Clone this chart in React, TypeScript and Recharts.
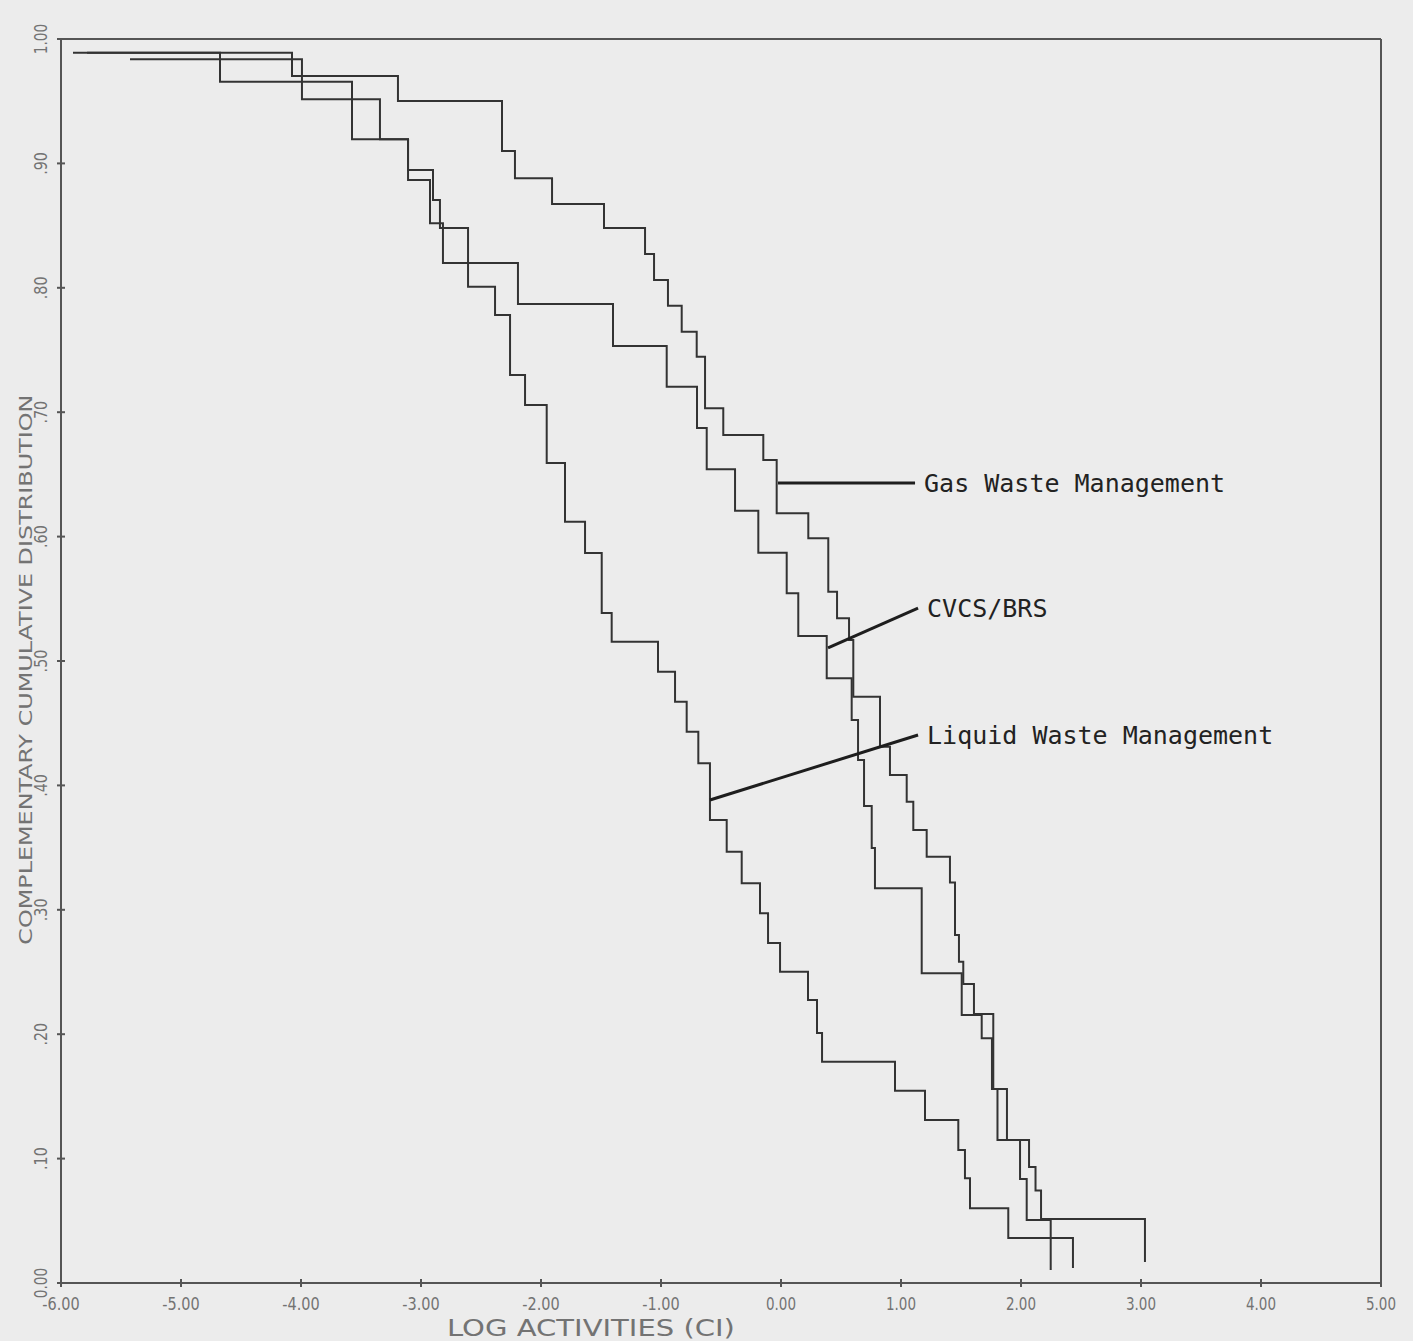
import { LineChart, Line, XAxis, YAxis, ReferenceLine } from "recharts"

// Step curves: each x is the log activity where a new level starts, y is the level held from there
const gasX = [-5.9, -4.075, -3.192, -2.325, -2.217, -1.908, -1.475, -1.133, -1.058, -0.942, -0.8275, -0.7025, -0.633, -0.481, -0.1475, -0.036, 0.2275, 0.394, 0.467, 0.567, 0.6025, 0.825, 0.908, 1.0475, 1.1025, 1.214, 1.408, 1.45, 1.483, 1.519, 1.608, 1.769, 1.883, 2.067, 2.121, 2.167, 3.033]
const gasY = [0.989, 0.9702, 0.9502, 0.91, 0.888, 0.8674, 0.8481, 0.8272, 0.8063, 0.7856, 0.7647, 0.7446, 0.7031, 0.6817, 0.6616, 0.6187, 0.5986, 0.5557, 0.5343, 0.5169, 0.4713, 0.4311, 0.4084, 0.3869, 0.3642, 0.3427, 0.3219, 0.2797, 0.2583, 0.2404, 0.2162, 0.1559, 0.1149, 0.0932, 0.0744, 0.0514, 0.0169]

const cvcsX = [-5.425, -3.992, -3.342, -3.108, -2.925, -2.817, -2.192, -1.4, -0.9525, -0.7, -0.619, -0.383, -0.189, 0.0475, 0.144, 0.381, 0.589, 0.642, 0.692, 0.756, 0.783, 1.1725, 1.506, 1.6725, 1.758, 1.804, 1.992, 2.0475, 2.2475]
const cvcsY = [0.9837, 0.9515, 0.9194, 0.8867, 0.8519, 0.8199, 0.787, 0.7532, 0.7205, 0.6873, 0.6541, 0.6208, 0.5871, 0.5544, 0.5201, 0.4861, 0.4526, 0.4204, 0.3834, 0.3497, 0.3173, 0.249, 0.2154, 0.1967, 0.1559, 0.1149, 0.0836, 0.0506, 0.0105]

const liquidX = [-5.783, -4.675, -3.575, -3.108, -2.9, -2.842, -2.608, -2.383, -2.258, -2.133, -1.9525, -1.8, -1.633, -1.494, -1.411, -1.025, -0.883, -0.786, -0.689, -0.592, -0.4525, -0.3275, -0.175, -0.108, -0.008, 0.225, 0.3, 0.342, 0.95, 1.2, 1.4775, 1.533, 1.575, 1.894, 2.433]
const liquidY = [0.989, 0.9657, 0.9194, 0.8947, 0.8706, 0.8481, 0.8009, 0.7781, 0.7299, 0.7058, 0.6592, 0.612, 0.5868, 0.5386, 0.5155, 0.4914, 0.4673, 0.4432, 0.4178, 0.3722, 0.3467, 0.3213, 0.2972, 0.2733, 0.2502, 0.2275, 0.201, 0.1779, 0.1546, 0.131, 0.1069, 0.0842, 0.06, 0.0362, 0.0121]

const xTicks = [-6, -5, -4, -3, -2, -1, 0, 1, 2, 3, 4, 5]
const xTickLabels = ["-6.00", "-5.00", "-4.00", "-3.00", "-2.00", "-1.00", "0.00", "1.00", "2.00", "3.00", "4.00", "5.00"]
const yTicks = [0, 0.1, 0.2, 0.3, 0.4, 0.5, 0.6, 0.7, 0.8, 0.9, 1]
const yTickLabels = ["0.00", ".10", ".20", ".30", ".40", ".50", ".60", ".70", ".80", ".90", "1.00"]

// callout leaders: from a point on the curve out to the name
const calloutNames = ["Gas Waste Management", "CVCS/BRS", "Liquid Waste Management"]
const calloutFrom = [{ x: -0.025, y: 0.643 }, { x: 0.392, y: 0.5105 }, { x: -0.592, y: 0.3883 }]
const calloutTo = [{ x: 1.117, y: 0.643 }, { x: 1.142, y: 0.5426 }, { x: 1.142, y: 0.4405 }]

const toSteps = (xs: number[], ys: number[]) => xs.map((x, i) => ({ x, y: ys[i] }))

const gas = toSteps(gasX, gasY)
const cvcs = toSteps(cvcsX, cvcsY)
const liquid = toSteps(liquidX, liquidY)

const INK = "#333"
const AXIS = "#555"
const FAINT = "#737373"

const XTick = (props: any) => {
  const { x, y, payload } = props
  const label = xTickLabels[xTicks.indexOf(payload.value)] ?? String(payload.value)
  return (
    <g>
      <line x1={x} x2={x} y1={y - 4} y2={y + 4} stroke={AXIS} strokeWidth={2} />
      <text
        x={x}
        y={y + 27}
        textAnchor="middle"
        fontFamily="DejaVu Sans, sans-serif"
        fontSize={18}
        fill={FAINT}
        textLength={label.length * 7.5}
        lengthAdjust="spacingAndGlyphs"
      >
        {label}
      </text>
    </g>
  )
}

const YTick = (props: any) => {
  const { x, y, payload } = props
  const i = yTicks.findIndex(t => Math.abs(t - payload.value) < 1e-6)
  const label = yTickLabels[i] ?? String(payload.value)
  const tx = x - 14
  return (
    <g>
      <line x1={x - 4} x2={x + 4} y1={y} y2={y} stroke={AXIS} strokeWidth={2} />
      <text
        x={tx}
        y={y}
        transform={`rotate(-90 ${tx} ${y})`}
        textAnchor="middle"
        fontFamily="DejaVu Sans, sans-serif"
        fontSize={17}
        fill={FAINT}
        textLength={label.length * 7.6}
        lengthAdjust="spacingAndGlyphs"
      >
        {label}
      </text>
    </g>
  )
}

const calloutLabel = (name: string) => (props: any) => {
  const vb = props.viewBox || {}
  return (
    <text
      x={vb.x + vb.width + 9}
      y={vb.y}
      dominantBaseline="central"
      fontFamily="DejaVu Sans Mono, monospace"
      fontSize={25}
      fill="#222"
    >
      {name}
    </text>
  )
}

export default function App() {
  return (
    <div style={{ position: "absolute", left: 0, top: 0, width: 1413, height: 1341, background: "#ececec" }}>
      <LineChart width={1413} height={1341} margin={{ top: 39, right: 32, left: 0, bottom: 0 }}>
        <XAxis
          type="number"
          dataKey="x"
          domain={[-6, 5]}
          ticks={xTicks}
          allowDataOverflow
          height={58}
          tickSize={0}
          tickMargin={0}
          tickLine={false}
          axisLine={{ stroke: AXIS, strokeWidth: 2 }}
          tick={XTick}
          label={(props: any) => {
            const vb = props.viewBox || {}
            const cx = vb.x + vb.width * 0.4015
            return (
              <text
                x={cx}
                y={vb.y + 53}
                textAnchor="middle"
                fontFamily="DejaVu Sans, sans-serif"
                fontSize={23}
                fill={FAINT}
                textLength={288}
                lengthAdjust="spacingAndGlyphs"
              >
                LOG ACTIVITIES (CI)
              </text>
            )
          }}
        />
        <YAxis
          type="number"
          dataKey="y"
          domain={[0, 1]}
          ticks={yTicks}
          allowDataOverflow
          width={61}
          tickSize={0}
          tickMargin={0}
          tickLine={false}
          axisLine={{ stroke: AXIS, strokeWidth: 2 }}
          tick={YTick}
          label={(props: any) => {
            const vb = props.viewBox || {}
            const tx = 32
            const ty = vb.y + vb.height * 0.507
            return (
              <text
                x={tx}
                y={ty}
                transform={`rotate(-90 ${tx} ${ty})`}
                textAnchor="middle"
                fontFamily="DejaVu Sans, sans-serif"
                fontSize={17}
                fill={FAINT}
                textLength={550}
                lengthAdjust="spacingAndGlyphs"
              >
                COMPLEMENTARY CUMULATIVE DISTRIBUTION
              </text>
            )
          }}
        />
        {/* frame top and right */}
        <ReferenceLine y={1} stroke={AXIS} strokeWidth={2} />
        <ReferenceLine x={5} stroke={AXIS} strokeWidth={2} />

        <Line data={gas} dataKey="y" type="stepAfter" stroke={INK} strokeWidth={2} dot={false} activeDot={false} isAnimationActive={false} />
        <Line data={cvcs} dataKey="y" type="stepAfter" stroke={INK} strokeWidth={2} dot={false} activeDot={false} isAnimationActive={false} />
        <Line data={liquid} dataKey="y" type="stepAfter" stroke={INK} strokeWidth={2} dot={false} activeDot={false} isAnimationActive={false} />

        {calloutNames.map((name, i) => (
          <ReferenceLine
            key={name}
            segment={[calloutFrom[i], calloutTo[i]]}
            stroke="#1e1e1e"
            strokeWidth={3}
            ifOverflow="visible"
            label={calloutLabel(name)}
          />
        ))}
      </LineChart>
    </div>
  )
}
